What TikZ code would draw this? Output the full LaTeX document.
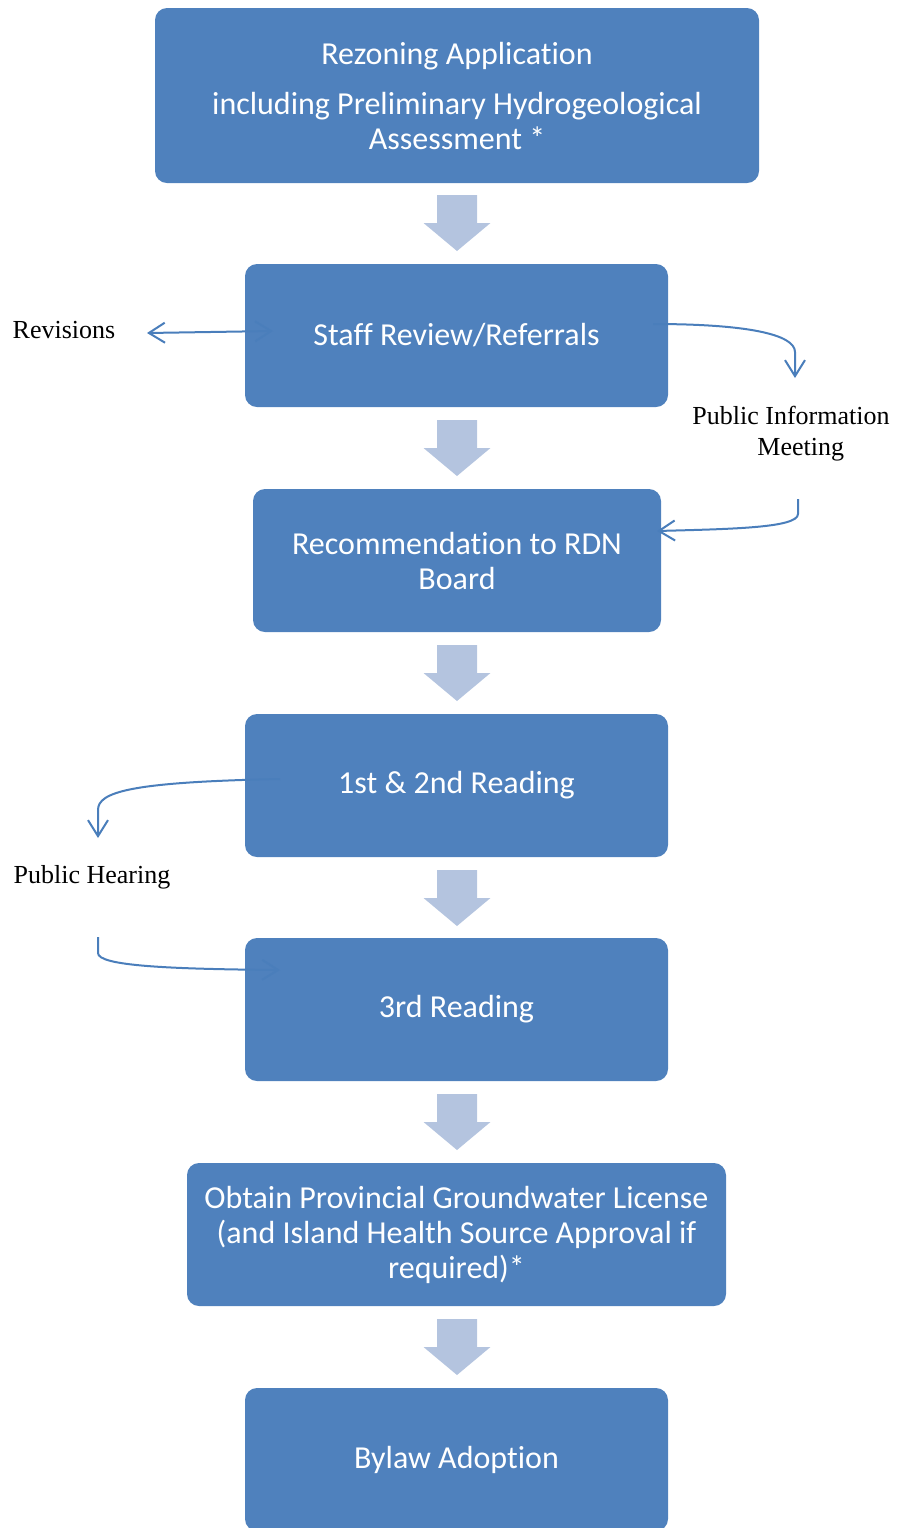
\documentclass[tikz,border=0pt]{standalone}
\usepackage{fontspec}
\setmainfont{Liberation Serif}
\newfontfamily\boxfont[Ligatures=CommonOff]{Carlito}
\usetikzlibrary{arrows.meta}
\definecolor{stageblue}{HTML}{4F81BD}
\definecolor{linkblue}{HTML}{4A7EBB}
\definecolor{flowgrey}{HTML}{B4C4DF}
\tikzset{
  stage/.style={fill=stageblue, rounded corners=6pt, text=white, align=center,
    font=\boxfont\fontsize{16}{17.5}\selectfont, inner sep=0pt},
  flowarrow/.style={fill=flowgrey},
  link/.style={draw=linkblue, line width=1pt,
    arrows={-Straight Barb[length=8pt,width=10pt]}},
  sidelabel/.style={font=\fontsize{13}{15.5}\selectfont, align=center, inner sep=0pt}
}
\begin{document}
\begin{tikzpicture}[x=0.5pt, y=-0.5pt]
    \useasboundingbox (0,0) rectangle (896,1528);
    \coordinate (S1) at (457,95.5);
    \coordinate (S2) at (456.5,335.5);
    \coordinate (S3) at (457,560.5);
    \coordinate (S4) at (456.5,785.5);
    \coordinate (S5) at (456.5,1009.5);
    \coordinate (S6) at (456.5,1234.5);
    \coordinate (S7) at (456.5,1459.5);
    \node[stage, minimum width=302pt, minimum height=87.5pt] (application) at (S1)
      {Rezoning Application\\[7.5pt]including Preliminary Hydrogeological\\Assessment *};
    \node[stage, minimum width=211.5pt, minimum height=71.5pt] (review) at (S2) {Staff Review/Referrals};
    \node[stage, minimum width=204pt, minimum height=71.5pt] (recommend) at (S3) {Recommendation to RDN\\Board};
    \node[stage, minimum width=211.5pt, minimum height=71.5pt] (reading12) at (S4) {1st \& 2nd Reading};
    \node[stage, minimum width=211.5pt, minimum height=71.5pt] (reading3) at (S5) {3rd Reading};
    \node[stage, minimum width=269.5pt, minimum height=71.5pt] (license) at (S6)
      {Obtain Provincial Groundwater License\\(and Island Health Source Approval if\\required)*};
    \node[stage, minimum width=211.5pt, minimum height=71.5pt] (adoption) at (S7) {Bylaw Adoption};

    % wide arrows between the stages
    \coordinate (A1) at (457,195);
    \coordinate (A2) at (457,420);
    \coordinate (A3) at (457,645);
    \coordinate (A4) at (457,870);
    \coordinate (A5) at (457,1094);
    \coordinate (A6) at (457,1319);
    \fill[flowarrow] (A1) ++(-20,0) -- ++(40,0) -- ++(0,28) -- ++(13.5,0) -- ++(-33.5,28) -- ++(-33.5,-28) -- ++(13.5,0) -- cycle;
    \fill[flowarrow] (A2) ++(-20,0) -- ++(40,0) -- ++(0,28) -- ++(13.5,0) -- ++(-33.5,28) -- ++(-33.5,-28) -- ++(13.5,0) -- cycle;
    \fill[flowarrow] (A3) ++(-20,0) -- ++(40,0) -- ++(0,28) -- ++(13.5,0) -- ++(-33.5,28) -- ++(-33.5,-28) -- ++(13.5,0) -- cycle;
    \fill[flowarrow] (A4) ++(-20,0) -- ++(40,0) -- ++(0,28) -- ++(13.5,0) -- ++(-33.5,28) -- ++(-33.5,-28) -- ++(13.5,0) -- cycle;
    \fill[flowarrow] (A5) ++(-20,0) -- ++(40,0) -- ++(0,28) -- ++(13.5,0) -- ++(-33.5,28) -- ++(-33.5,-28) -- ++(13.5,0) -- cycle;
    \fill[flowarrow] (A6) ++(-20,0) -- ++(40,0) -- ++(0,28) -- ++(13.5,0) -- ++(-33.5,28) -- ++(-33.5,-28) -- ++(13.5,0) -- cycle;

    % side steps
    \node[sidelabel] (revisions) at (64,330) {Revisions};
    \node[sidelabel] (meeting) at (791,434) {Public Information\\\ \ \ Meeting};
    \node[sidelabel] (hearing) at (92,877) {Public Hearing};
    \coordinate (R1) at (147,333);
    \coordinate (R2) at (273,331);
    \coordinate (M1) at (653,324);
    \coordinate (M2) at (795,378);
    \coordinate (M3) at (798,499);
    \coordinate (M4) at (657,531);
    \coordinate (H1) at (280,779);
    \coordinate (H2) at (98,838);
    \coordinate (H3) at (98,937);
    \coordinate (H4) at (280,970);
    \draw[link, arrows={Straight Barb[length=8pt,width=10pt]-Straight Barb[length=8pt,width=10pt]}] (R2) -- (R1);
    \draw[link] (M1) .. controls (745,324) and (795,334) .. (795,352) -- (M2);
    \draw[link] (M3) -- (798,514) .. controls (798,528) and (730,529) .. (M4);
    \draw[link] (H1) .. controls (130,782) and (98,792) .. (98,810) -- (H2);
    \draw[link] (H3) -- (98,953) .. controls (98,966) and (170,969) .. (H4);
  \end{tikzpicture}
\end{document}
